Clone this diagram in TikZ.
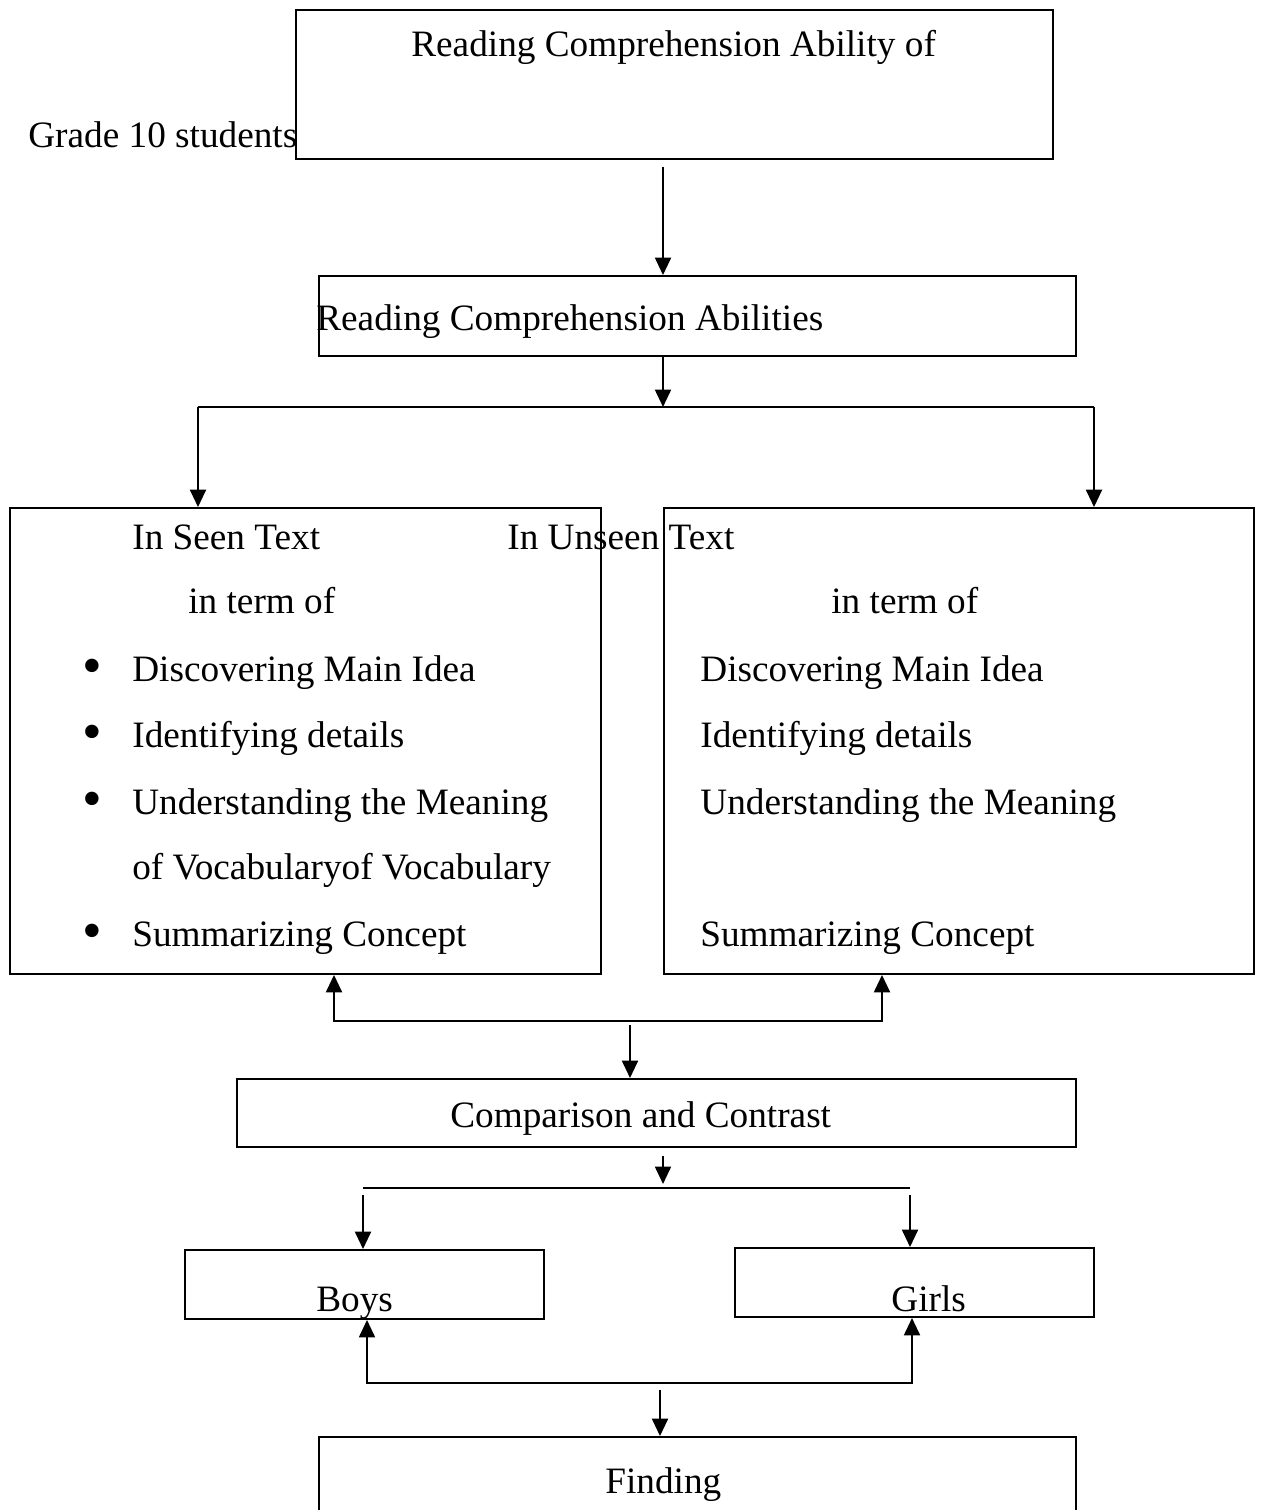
\documentclass[tikz,border=0pt]{standalone}
\usepackage{fontspec}
\setmainfont{Liberation Serif}
\usepackage{tikz}
\usetikzlibrary{arrows.meta,positioning,calc}

\tikzset{
  box/.style={draw,line width=1.1pt,inner sep=0pt},
  txt/.style={inner sep=0pt,anchor=base west,font=\fontsize{21.2}{25}\selectfont},
  dot/.style={inner sep=0pt,anchor=center,font=\fontsize{32}{32}\selectfont},
  link/.style={line width=1.3pt},
  arr/.style={line width=1.3pt,-{Triangle[length=0.35cm,width=0.32cm]}},
  arrboth/.style={line width=1.3pt,{Triangle[length=0.35cm,width=0.32cm]}-{Triangle[length=0.35cm,width=0.32cm]}}
}

\begin{document}
\begin{tikzpicture}[x=0.02cm,y=-0.02cm]
    \useasboundingbox (0,0) rectangle (1262,1510);
    \clip (0,0) rectangle (1262,1510);

    % Boxes
    \node[box,minimum width=15.14cm,minimum height=2.98cm] (ability) at (674.5,84.5) {};
    \node[box,minimum width=15.14cm,minimum height=1.6cm] (abilities) at (697.5,316) {};
    \node[box,minimum width=11.82cm,minimum height=9.32cm] (seen) at (305.5,741) {};
    \node[box,minimum width=11.8cm,minimum height=9.32cm] (unseen) at (959,741) {};
    \node[box,minimum width=16.78cm,minimum height=1.36cm] (compare) at (656.5,1113) {};
    \node[box,minimum width=7.18cm,minimum height=1.38cm] (boys) at (364.5,1284.5) {};
    \node[box,minimum width=7.18cm,minimum height=1.38cm] (girls) at (914.5,1282.5) {};
    \node[box,minimum width=15.14cm,minimum height=2.46cm] (finding) at (697.5,1498.5) {};

    % Top texts
    \node[txt] (abilityof) at (411,57) {Reading Comprehension Ability of};
    \node[txt] (grade) at (28,148) {Grade 10 students};
    \node[txt] (rcabilities) at (316,331) {Reading Comprehension Abilities};

    % Seen text
    \node[txt] (seenhead) at (132,549) {In Seen Text};
    \node[txt] (seenterm) at (188,613) {in term of};
    \node[dot] (bulA) at (92,672) {\textbullet};
    \node[txt] (seenA) at (132,681) {Discovering Main Idea};
    \node[dot] (bulB) at (92,738) {\textbullet};
    \node[txt] (seenB) at (132,747) {Identifying details};
    \node[dot] (bulC) at (92,805) {\textbullet};
    \node[txt] (seenC) at (132,814) {Understanding the Meaning};
    \node[txt] (seenD) at (132,879) {of Vocabularyof Vocabulary};
    \node[dot] (bulE) at (92,937) {\textbullet};
    \node[txt] (seenE) at (132,946) {Summarizing Concept};

    % Unseen text
    \node[txt] (unseenhead) at (507,549) {In Unseen Text};
    \node[txt] (unseenterm) at (831,613) {in term of};
    \node[txt] (unseenA) at (700,681) {Discovering Main Idea};
    \node[txt] (unseenB) at (700,747) {Identifying details};
    \node[txt] (unseenC) at (700,814) {Understanding the Meaning};
    \node[txt] (unseenE) at (700,946) {Summarizing Concept};

    % Lower texts
    \node[txt] (comparetxt) at (450,1127) {Comparison and Contrast};
    \node[txt] (boystxt) at (316,1311) {Boys};
    \node[txt] (girlstxt) at (891,1311) {Girls};
    \node[txt] (findingtxt) at (605,1493) {Finding};

    % Split and join points
    \coordinate (sp1) at (663,407);
    \coordinate (sp1L) at (198,407);
    \coordinate (sp1R) at (1094,407);
    \coordinate (jn1L) at (334,1021);
    \coordinate (jn1R) at (882,1021);
    \coordinate (jn1) at (630,1025);
    \coordinate (sp2) at (663,1188);
    \coordinate (sp2L) at (363,1188);
    \coordinate (sp2R) at (910,1188);
    \coordinate (jn2L) at (367,1383);
    \coordinate (jn2R) at (912,1383);
    \coordinate (jn2) at (660,1390);

    % Connectors
    \draw[arr,shorten <=0.14cm] (ability.south -| sp1) -- (abilities.north -| sp1);
    \draw[arr] (abilities.south -| sp1) -- (sp1);
    \draw[link] (sp1L) -- (sp1R);
    \draw[arr] (sp1L) -- (seen.north -| sp1L);
    \draw[arr] (sp1R) -- (unseen.north -| sp1R);
    \draw[arrboth] (seen.south -| jn1L) -- (jn1L) -- (jn1R) -- (unseen.south -| jn1R);
    \draw[arr] (jn1) -- (compare.north -| jn1);
    \draw[arr,shorten <=0.16cm,shorten >=0.08cm] (compare.south -| sp2) -- (sp2);
    \draw[link] (sp2L) -- (sp2R);
    \draw[arr,shorten <=0.14cm] (sp2L) -- (boys.north -| sp2L);
    \draw[arr,shorten <=0.14cm] (sp2R) -- (girls.north -| sp2R);
    \draw[arrboth] (boys.south -| jn2L) -- (jn2L) -- (jn2R) -- (girls.south -| jn2R);
    \draw[arr] (jn2) -- (finding.north -| jn2);
\end{tikzpicture}
\end{document}
